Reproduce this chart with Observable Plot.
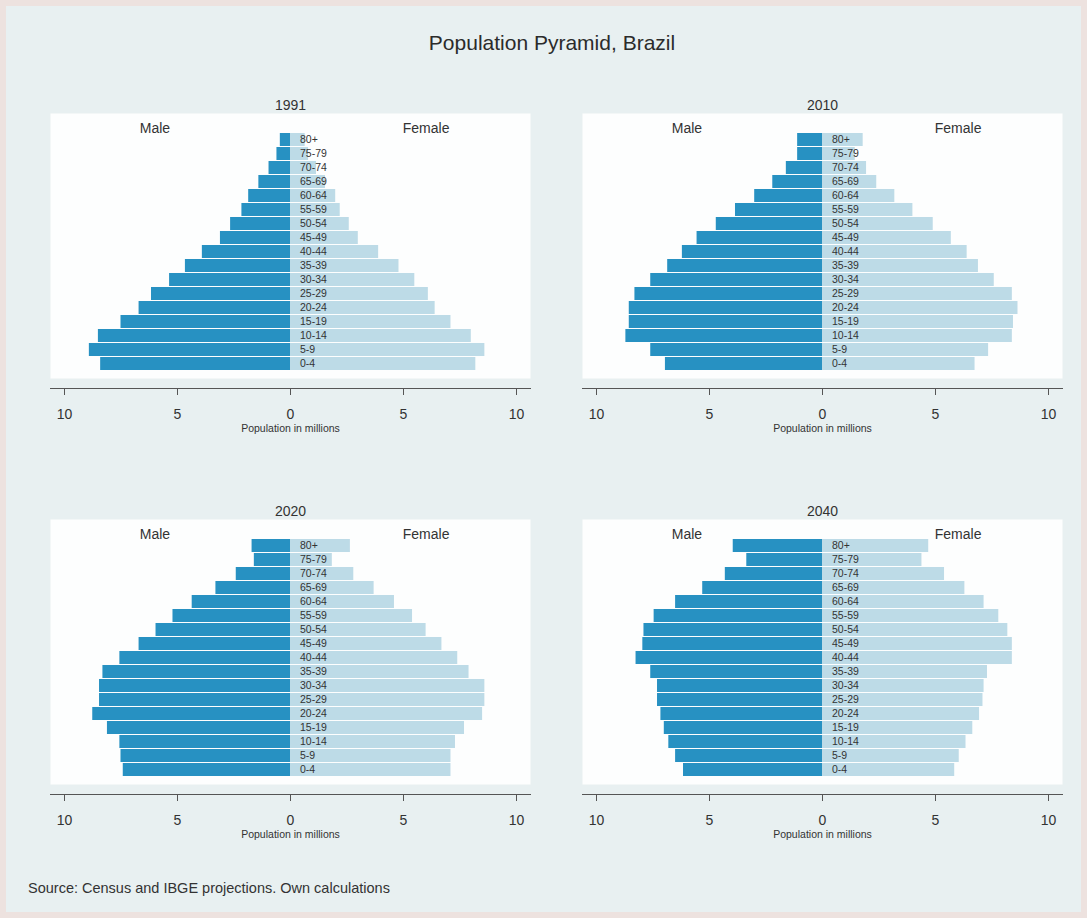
<!DOCTYPE html>
<html>
<head>
<meta charset="utf-8">
<script src="https://cdn.jsdelivr.net/npm/d3@7"></script>
<script src="https://cdn.jsdelivr.net/npm/@observablehq/plot@0.6"></script>
<style>
  html, body { margin: 0; padding: 0; }
  body { position: relative; width: 1087px; height: 918px; background: #ede2df; font-family: "Liberation Sans", Arial, sans-serif; overflow: hidden; }
  #page { position: absolute; left: 6px; top: 6px; width: 1075px; height: 906px; background: #e8f0f1; }
  #title { position: absolute; left: 552px; top: 31px; transform: translateX(-50%); font-size: 21px; line-height: 24px; color: #2b2b2b; white-space: nowrap; }
  #caption { position: absolute; left: 28px; top: 879px; font-size: 14.5px; line-height: 18px; color: #333; white-space: nowrap; }
  .panel { position: absolute; }
</style>
</head>
<body>
<div id="page"></div>
<div id="title">Population Pyramid, Brazil</div>
<div class="panel" id="p1" style="left:30px; top:83px;"></div>
<div class="panel" id="p2" style="left:562px; top:83px;"></div>
<div class="panel" id="p3" style="left:30px; top:489px;"></div>
<div class="panel" id="p4" style="left:562px; top:489px;"></div>
<div id="caption">Source: Census and IBGE projections. Own calculations</div>
<script>
// Age groups, top to bottom
const ages = ["80+", "75-79", "70-74", "65-69", "60-64", "55-59", "50-54", "45-49", "40-44",
              "35-39", "30-34", "25-29", "20-24", "15-19", "10-14", "5-9", "0-4"];
const years = ["1991", "2010", "2020", "2040"];

// Population in millions, same order as ages (80+ first, 0-4 last)
const male1991   = [0.45, 0.6, 0.95, 1.4, 1.85, 2.15, 2.65, 3.1, 3.9, 4.65, 5.35, 6.15, 6.7, 7.5, 8.5, 8.9, 8.4];
const female1991 = [0.65, 0.8, 1.15, 1.55, 2.0, 2.2, 2.6, 3.0, 3.9, 4.8, 5.5, 6.1, 6.4, 7.1, 8.0, 8.6, 8.2];
const male2010   = [1.1, 1.1, 1.6, 2.2, 3.0, 3.85, 4.7, 5.55, 6.2, 6.85, 7.6, 8.3, 8.55, 8.55, 8.7, 7.6, 6.95];
const female2010 = [1.8, 1.45, 1.95, 2.4, 3.2, 4.0, 4.9, 5.7, 6.4, 6.9, 7.6, 8.4, 8.65, 8.45, 8.4, 7.35, 6.75];
const male2020   = [1.7, 1.6, 2.4, 3.3, 4.35, 5.2, 5.95, 6.7, 7.55, 8.3, 8.45, 8.45, 8.75, 8.1, 7.55, 7.5, 7.4];
const female2020 = [2.65, 1.85, 2.8, 3.7, 4.6, 5.4, 6.0, 6.7, 7.4, 7.9, 8.6, 8.6, 8.5, 7.7, 7.3, 7.1, 7.1];
const male2040   = [3.95, 3.35, 4.3, 5.3, 6.5, 7.45, 7.9, 7.95, 8.25, 7.6, 7.3, 7.3, 7.15, 7.0, 6.8, 6.5, 6.15];
const female2040 = [4.7, 4.4, 5.4, 6.3, 7.15, 7.8, 8.2, 8.4, 8.4, 7.3, 7.15, 7.1, 6.95, 6.65, 6.35, 6.05, 5.85];

const tickValues = [-10, -5, 0, 5, 10];
const axisTitle = "Population in millions";
const sexLabels = ["Male", "Female"];

const MALE = "#2791c2";
const FEMALE = "#bddbe7";
const FONT = "'Liberation Sans', Arial, sans-serif";

const series = {
  "1991": [male1991, female1991],
  "2010": [male2010, female2010],
  "2020": [male2020, female2020],
  "2040": [male2040, female2040]
};

function panel(year) {
  const [m, f] = series[year];
  const rows = ages.map((age, i) => ({age, male: m[i], female: f[i]}));
  return Plot.plot({
    width: 518,
    height: 355,
    marginLeft: 20,
    marginRight: 18,
    marginTop: 30,
    marginBottom: 60,
    style: {background: "transparent", fontFamily: FONT, color: "#333", overflow: "visible"},
    x: {domain: [-10, 10], inset: 14},
    y: {domain: ages, padding: 0.04, insetTop: 16, insetBottom: 4, axis: null},
    marks: [
      Plot.frame({fill: "#fdfefe", stroke: null}),
      Plot.barX(rows, {x1: 0, x2: d => -d.male, y: "age", fill: MALE}),
      Plot.barX(rows, {x1: 0, x2: "female", y: "age", fill: FEMALE}),
      Plot.text(rows, {x: 0.42, y: "age", text: "age", textAnchor: "start", fontSize: 10.5, fill: "#333"}),
      Plot.text([sexLabels[0]], {x: -6, text: d => d, frameAnchor: "top", dy: 10, fontSize: 14, fill: "#333"}),
      Plot.text([sexLabels[1]], {x: 6, text: d => d, frameAnchor: "top", dy: 10, fontSize: 14, fill: "#333"}),
      Plot.frame({anchor: "bottom", dy: 10, stroke: "#555"}),
      Plot.axisX({ticks: tickValues, tickFormat: d => Math.abs(d), tickSize: 7, tickPadding: 14, dy: 10, fontSize: 14, label: null, stroke: "#555", fill: "#333"}),
      Plot.text([axisTitle], {text: d => d, frameAnchor: "bottom", dy: 53, fontSize: 10.5, fill: "#333"}),
      Plot.text([year], {text: d => d, frameAnchor: "top", dy: -13, fontSize: 14, fill: "#333"})
    ]
  });
}

document.getElementById("p1").appendChild(panel(years[0]));
document.getElementById("p2").appendChild(panel(years[1]));
document.getElementById("p3").appendChild(panel(years[2]));
document.getElementById("p4").appendChild(panel(years[3]));
</script>
</body>
</html>
